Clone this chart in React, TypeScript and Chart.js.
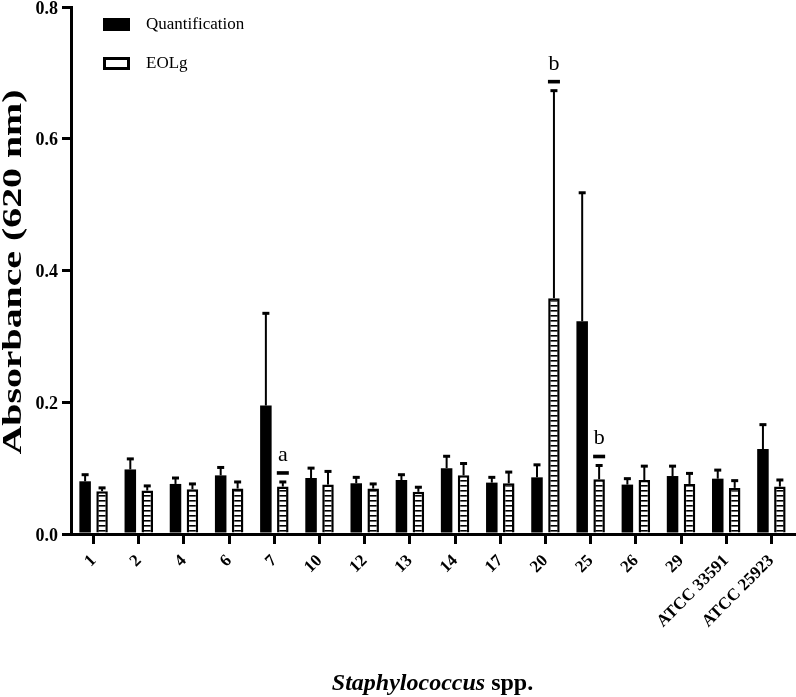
import React, { useEffect, useRef } from "react";
import { Chart, registerables } from "chart.js";
Chart.register(...registerables);

const categories = ["1", "2", "4", "6", "7", "10", "12", "13", "14", "17", "20", "25", "26", "29", "ATCC 33591", "ATCC 25923"];
const quantMean = [0.080, 0.098, 0.076, 0.089, 0.195, 0.085, 0.077, 0.082, 0.100, 0.078, 0.086, 0.323, 0.075, 0.088, 0.084, 0.129];
const quantErr = [0.010, 0.016, 0.009, 0.012, 0.140, 0.015, 0.009, 0.008, 0.018, 0.008, 0.019, 0.195, 0.009, 0.015, 0.013, 0.037];
const eolgMean = [0.065, 0.066, 0.068, 0.069, 0.072, 0.075, 0.069, 0.064, 0.089, 0.077, 0.358, 0.083, 0.082, 0.076, 0.070, 0.072];
const eolgErr = [0.005, 0.007, 0.008, 0.010, 0.007, 0.020, 0.007, 0.007, 0.018, 0.017, 0.315, 0.021, 0.021, 0.016, 0.011, 0.010];
const yTicks = [0, 0.2, 0.4, 0.6, 0.8];
const eolgLetters = ["", "", "", "", "a", "", "", "", "", "", "b", "b", "", "", "", ""];
const seriesNames = ["Quantification", "EOLg"];
const yTitle = "Absorbance (620 nm)";
const xTitleItalic = "Staphylococcus";
const xTitleRest = " spp.";

const SERIF = '"Liberation Serif", "Times New Roman", serif';

function makePattern(): CanvasPattern | string {
  const c = document.createElement("canvas");
  c.width = 8;
  c.height = 5;
  const g = c.getContext("2d");
  if (!g) return "#fff";
  g.fillStyle = "#fff";
  g.fillRect(0, 0, 8, 5);
  g.fillStyle = "#000";
  g.fillRect(0, 0, 8, 1.6);
  const p = g.createPattern(c, "repeat");
  return p || "#fff";
}

const overlay = {
  id: "overlay",
  afterDatasetsDraw(chart: any) {
    const ctx = chart.ctx as CanvasRenderingContext2D;
    const ys = chart.scales.y;
    const errs = [quantErr, eolgErr];
    const tops: number[][] = [[], []];
    [0, 1].forEach((di) => {
      const meta = chart.getDatasetMeta(di);
      meta.data.forEach((bar: any, i: number) => {
        const v = chart.data.datasets[di].data[i] as number;
        const top = ys.getPixelForValue(v + errs[di][i]);
        tops[di][i] = top;
        ctx.save();
        ctx.strokeStyle = "#000";
        ctx.lineWidth = 2;
        ctx.beginPath();
        ctx.moveTo(bar.x, bar.y);
        ctx.lineTo(bar.x, top);
        ctx.stroke();
        ctx.fillStyle = "#000";
        ctx.fillRect(bar.x - 3.5, top - 1.5, 7, 3);
        ctx.restore();
      });
    });
    const meta1 = chart.getDatasetMeta(1);
    eolgLetters.forEach((l, i) => {
      if (!l) return;
      const bar: any = meta1.data[i];
      const dashY = tops[1][i] - 9;
      ctx.save();
      ctx.fillStyle = "#000";
      ctx.fillRect(bar.x - 6, dashY - 1.8, 12, 3.6);
      ctx.font = `22px ${SERIF}`;
      ctx.textAlign = "center";
      ctx.textBaseline = "alphabetic";
      ctx.fillText(l, bar.x, dashY - 12);
      ctx.restore();
    });
  },
  afterDraw(chart: any) {
    const ctx = chart.ctx as CanvasRenderingContext2D;
    const area = chart.chartArea;
    ctx.save();
    ctx.fillStyle = "#000";
    ctx.fillRect(103, 18, 27, 13);
    ctx.lineWidth = 3;
    ctx.strokeStyle = "#000";
    ctx.fillStyle = "#fff";
    ctx.fillRect(104.5, 58.5, 24, 10);
    ctx.strokeRect(104.5, 58.5, 24, 10);
    ctx.fillStyle = "#000";
    ctx.font = `17px ${SERIF}`;
    ctx.textAlign = "left";
    ctx.textBaseline = "middle";
    ctx.fillText(seriesNames[0], 146, 25);
    ctx.fillText(seriesNames[1], 146, 64);
    // y title (stretched along its length like the reference)
    ctx.save();
    ctx.font = `bold 27px ${SERIF}`;
    const tw = ctx.measureText(yTitle).width;
    const stretch = 365 / tw;
    ctx.translate(14, 272);
    ctx.rotate(-Math.PI / 2);
    ctx.scale(stretch, 1);
    ctx.textAlign = "center";
    ctx.textBaseline = "middle";
    ctx.fillText(yTitle, 0, 0);
    ctx.restore();
    // x title
    ctx.font = `italic bold 24px ${SERIF}`;
    const w1 = ctx.measureText(xTitleItalic).width;
    ctx.font = `bold 24px ${SERIF}`;
    const w2 = ctx.measureText(xTitleRest).width;
    const cx = (area.left + area.right) / 2;
    const startX = cx - (w1 + w2) / 2;
    ctx.textAlign = "left";
    ctx.textBaseline = "middle";
    ctx.font = `italic bold 24px ${SERIF}`;
    ctx.fillText(xTitleItalic, startX, 684);
    ctx.font = `bold 24px ${SERIF}`;
    ctx.fillText(xTitleRest, startX + w1, 684);
    ctx.restore();
  },
};

export default function App() {
  const ref = useRef<HTMLCanvasElement>(null);
  useEffect(() => {
    if (!ref.current) return;
    const pattern = makePattern();
    const chart = new Chart(ref.current, {
      type: "bar",
      data: {
        labels: categories,
        datasets: [
          {
            label: seriesNames[0],
            data: quantMean,
            backgroundColor: "#000",
            borderColor: "#000",
            borderWidth: 0,
            categoryPercentage: 0.75,
            barPercentage: 0.68,
          },
          {
            label: seriesNames[1],
            data: eolgMean,
            backgroundColor: pattern as any,
            borderColor: "#000",
            borderWidth: 2.5,
            categoryPercentage: 0.75,
            barPercentage: 0.68,
          },
        ],
      },
      options: {
        responsive: false,
        animation: false,
        devicePixelRatio: 1,
        layout: { padding: { left: 0, right: 2, top: 7, bottom: 0 } },
        plugins: {
          legend: { display: false },
          tooltip: { enabled: false },
          title: { display: false },
        },
        scales: {
          x: {
            type: "category",
            offset: true,
            grid: {
              offset: false,
              drawOnChartArea: false,
              tickLength: 10,
              lineWidth: 3,
              color: "#000",
            },
            border: { color: "#000", width: 3 },
            ticks: {
              color: "#000",
              font: { family: SERIF, size: 17, weight: "bold" },
              minRotation: 45,
              maxRotation: 45,
              autoSkip: false,
              padding: 7,
            },
            afterFit: (s: any) => {
              s.height = 163;
              s.paddingLeft = 0;
              s.paddingRight = 0;
            },
          },
          y: {
            min: 0,
            max: 0.8,
            grid: {
              drawOnChartArea: false,
              tickLength: 9,
              lineWidth: 3,
              color: "#000",
            },
            border: { color: "#000", width: 3 },
            ticks: {
              color: "#000",
              font: { family: SERIF, size: 18, weight: "bold" },
              padding: 4,
              labelOffset: 2,
              callback: (v: any) => Number(v).toFixed(1),
            },
            afterBuildTicks: (s: any) => {
              s.ticks = yTicks.map((v) => ({ value: v }));
            },
            afterFit: (s: any) => {
              s.width = 71;
              s.paddingTop = 0;
              s.paddingBottom = 0;
            },
          },
        },
      },
      plugins: [overlay],
    });
    return () => chart.destroy();
  }, []);
  return (
    <div style={{ position: "absolute", left: 0, top: 0, width: 796, height: 697, background: "#fff" }}>
      <canvas ref={ref} width={796} height={697} style={{ width: 796, height: 697, display: "block" }} />
    </div>
  );
}
